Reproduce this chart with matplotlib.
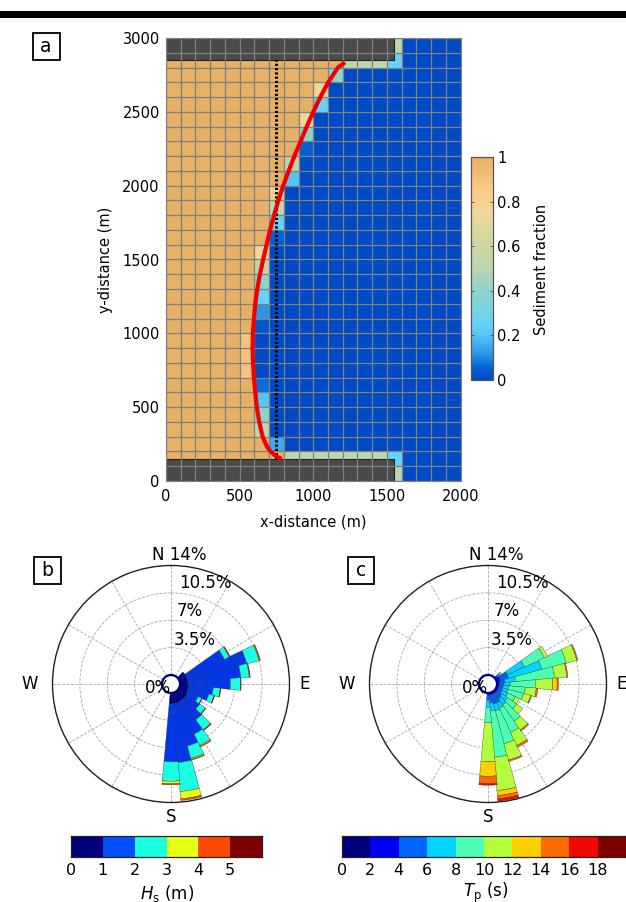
import numpy as np
import matplotlib
matplotlib.use("Agg")
import matplotlib.pyplot as plt
from matplotlib.colors import LinearSegmentedColormap, ListedColormap, BoundaryNorm
from matplotlib.patches import Rectangle

W, H = 626, 902
fig = plt.figure(figsize=(W/100, H/100), dpi=100)
plt.rcParams['font.family'] = 'DejaVu Sans'
plt.rcParams['mathtext.fontset'] = 'dejavusans'

def px_axes(x0, y0, x1, y1, **kw):
    return fig.add_axes([x0/W, 1-y1/H, (x1-x0)/W, (y1-y0)/H], **kw)

# ---------- data: panel a ----------
shore_cols = [15, 15, 7, 6, 6, 6, 6, 5, 5, 5, 6, 6, 6, 6, 6, 6, 7, 7, 7, 7, 8, 8, 9, 9, 9, 10, 10, 11, 15, 15]
shore_frac = [.5, .25, .15, .5, .4, .2, .07, .9, .9, .9, .03, .12, .25, .4, .5, .75, .05, .25, .5, .8, .2, .5, .05, .4, .75, .25, .75, .4, .25, .5]
shelf_rows = [1, 28]
shelf_start = [8, 12]
shelf_frac = 0.5
groyne_south = (0, 1550, 0, 150)
groyne_north = (0, 1550, 2850, 3000)
coast_x = [785, 755, 733, 708, 688, 671, 656, 633, 617, 606, 597, 591, 588, 590, 597, 606, 620, 638, 660, 683, 707, 734, 763, 796, 833, 872, 914, 956, 1000, 1048, 1102, 1168, 1215]
coast_y = [150, 163, 180, 203, 230, 265, 300, 400, 500, 600, 700, 800, 900, 1000, 1100, 1200, 1300, 1400, 1500, 1600, 1700, 1800, 1900, 2000, 2100, 2200, 2300, 2400, 2500, 2600, 2700, 2800, 2835]
init_x = [750, 750]
init_y = [150, 2850]

# ---------- data: wave roses (cumulative % per direction bin) ----------
directions = [50, 60, 70, 80, 90, 100, 110, 120, 130, 140, 150, 160, 170, 180]
hs_cum = [
    [1.0, 1.0, 1.0, 1.0, 1.0],
    [1.0, 6.37, 7.05, 7.10, 7.18],
    [1.0, 8.89, 10.50, 10.58, 10.68],
    [1.0, 7.82, 8.89, 8.95, 9.02],
    [1.1, 6.45, 7.74, 7.78, 7.82],
    [1.1, 4.27, 5.17, 5.20, 5.26],
    [1.1, 3.85, 4.55, 4.58, 4.62],
    [1.2, 2.69, 3.20, 3.22, 3.25],
    [1.3, 3.33, 4.22, 4.25, 4.27],
    [1.3, 4.40, 5.98, 6.05, 6.11],
    [1.3, 5.90, 7.48, 7.62, 7.74],
    [1.4, 7.05, 8.68, 8.82, 8.93],
    [1.4, 8.93, 12.65, 13.59, 13.80],
    [1.4, 8.80, 11.28, 11.62, 11.75],
]
hs_colors = ['#00007f', '#0050ff', '#19ffe0', '#e6ff12', '#ff4a00', '#7f0000']
hs_bar_colors = ['#00007f', '#0038e8', '#19ffe0', '#e6ff12', '#ff4a00', '#7f0000']
hs_ticks = [0, 1, 2, 3, 4, 5]
tp_cum = [
    [0.0, 0.3, 0.6, 0.8, 1.00, 1.00, 1.00, 1.00, 1.00],
    [0.0, 0.5, 1.60, 4.00, 6.79, 7.22, 7.22, 7.22, 7.22],
    [0.0, 0.5, 1.60, 5.98, 9.20, 10.60, 10.60, 10.75, 10.75],
    [0.0, 0.4, 1.00, 2.40, 7.39, 8.97, 8.97, 9.10, 9.10],
    [0.0, 0.3, 0.90, 1.70, 4.91, 7.14, 7.69, 7.86, 7.86],
    [0.0, 0.3, 0.80, 1.50, 3.63, 5.04, 5.04, 5.26, 5.26],
    [0.0, 0.3, 0.80, 1.50, 3.55, 4.49, 4.49, 4.62, 4.62],
    [0.0, 0.3, 0.80, 1.60, 2.69, 3.25, 3.25, 3.25, 3.25],
    [0.0, 0.3, 1.00, 1.90, 3.33, 4.27, 4.27, 4.27, 4.27],
    [0.0, 0.3, 1.20, 2.10, 4.66, 6.03, 6.03, 6.20, 6.20],
    [0.0, 0.3, 1.50, 2.26, 5.68, 7.52, 7.52, 7.78, 7.78],
    [0.0, 0.3, 1.50, 2.40, 6.75, 8.93, 8.93, 9.10, 9.10],
    [0.0, 0.3, 1.30, 2.30, 8.25, 12.52, 13.16, 13.59, 13.89],
    [0.0, 0.3, 0.90, 1.84, 3.80, 8.80, 10.64, 11.58, 11.79],
]
tp_colors = ['#00007f', '#0000f0', '#0064ff', '#00d4ff', '#4dffb3', '#b3ff3d', '#ffd000', '#ff6a00', '#f00800', '#7f0000']
tp_ticks = [0, 2, 4, 6, 8, 10, 12, 14, 16, 18]

# ---------- top rule ----------
fig.patches.append(Rectangle((0, 1-18/H), 1, 7/H, transform=fig.transFigure, fc='black', ec='none'))

# ---------- panel a ----------
ax = px_axes(166, 38, 460.5, 481)
sed = np.ones((30, 20))
for r, (c, f) in enumerate(zip(shore_cols, shore_frac)):
    sed[r, c] = f
    sed[r, c+1:] = 0
for r, s in zip(shelf_rows, shelf_start):
    sed[r, s:shore_cols[r]] = shelf_frac
sed_cmap = LinearSegmentedColormap.from_list('sed', [
    (0, '#004ac6'), (.05, '#0060d4'), (.12, '#2f98e8'), (.2, '#55c5f5'), (.25, '#66d2f5'), (.4, '#8cd4ca'),
    (.5, '#bcd6ae'), (.6, '#cdd6a2'), (.75, '#f0d69a'), (.85, '#fbcc88'), (1, '#e6b066')])
xe = np.arange(0, 2001, 100)
ye = np.arange(0, 3001, 100)
mesh = ax.pcolormesh(xe, ye, sed, cmap=sed_cmap, vmin=0, vmax=1, zorder=1)
for g in (groyne_south, groyne_north):
    ax.add_patch(Rectangle((g[0], g[2]), g[1]-g[0], g[3]-g[2], fc='#4a4a4a', ec='#222222', lw=0.8, zorder=2))
for v in xe:
    ax.axvline(v, color='#808080', lw=0.9, zorder=3)
for v in ye:
    ax.axhline(v, color='#808080', lw=0.9, zorder=3)
ax.plot(init_x, init_y, color='black', lw=2.2, ls=(0, (0.7, 0.7)), zorder=4)
ax.plot(coast_x, coast_y, color='#f00000', lw=3, zorder=5, solid_capstyle='butt', solid_joinstyle='round')
ax.set_xlim(0, 2000); ax.set_ylim(0, 3000)
ax.set_xticks(range(0, 2001, 500)); ax.set_yticks(range(0, 3001, 500))
ax.tick_params(length=0, labelsize=10.5)
ax.tick_params(axis='x', pad=6)
ax.tick_params(axis='y', pad=4.5)
ax.set_xlabel('x-distance (m)', fontsize=10.5, labelpad=7)
ax.set_ylabel('y-distance (m)', fontsize=10.5, labelpad=7)
for s in ax.spines.values():
    s.set_color('#808080'); s.set_linewidth(0.8); s.set_zorder(6)

cax = px_axes(471, 157, 493, 380)
cb = fig.colorbar(mesh, cax=cax)
cb.set_ticks([0, .2, .4, .6, .8, 1], labels=['0', '0.2', '0.4', '0.6', '0.8', '1'])
cb.ax.tick_params(direction='in', length=2, width=0.5, labelsize=10.5, pad=3, color='#333333', left=True)
cb.outline.set_edgecolor('#555555'); cb.outline.set_linewidth(0.9)
fig.text(541/W, 1-269/H, 'Sediment fraction', rotation=90, fontsize=10.5, ha='center', va='center')

# ---------- panels b, c ----------
RO = -1.15
def rose(cx, cy, cum, colors):
    a = px_axes(cx-118.5, cy-118.5, cx+118.5, cy+118.5, projection='polar')
    a.set_theta_zero_location('N'); a.set_theta_direction(-1)
    a.set_rorigin(RO); a.set_rlim(0, 14)
    a.set_xticks(np.deg2rad(np.arange(0, 360, 30))); a.set_xticklabels([])
    a.set_yticks([3.5, 7, 10.5, 14]); a.set_yticklabels([])
    a.grid(True, color='#a8a8a8', lw=0.6, ls='--')
    a.set_axisbelow(True)
    a.spines['polar'].set_color('#222222'); a.spines['polar'].set_linewidth(1.0)
    th = np.deg2rad(directions)
    c = np.array(cum)
    prev = np.zeros(len(directions))
    for k in range(c.shape[1]):
        h = c[:, k]-prev
        ec = colors[k] if prev.max() == 0 or k == 0 else '#303030'
        a.bar(th[h > 0], h[h > 0], width=np.deg2rad(10.4), bottom=prev[h > 0], color=colors[k],
              edgecolor=ec, linewidth=0.25, zorder=3)
        prev = c[:, k]
    tt = np.linspace(0, 2*np.pi, 100)
    a.plot(tt, np.zeros_like(tt), color='#00007f', lw=1.6, zorder=4, clip_on=False)
    a.plot([0.5], [0.5], 'o', color='black', ms=2.2, zorder=5, transform=a.transAxes)
    a.set_rlim(0, 14); a.set_rorigin(RO)
    return a

rose(171, 684, hs_cum, hs_bar_colors)
rose(488, 684, tp_cum, tp_colors)

def rose_text(cx):
    fs = 12
    for s, dx, y in [('N 14%', 8, 555), ('10.5%', 34, 583), ('7%', 19, 611), ('3.5%', 24, 640), ('0%', -13, 688)]:
        fig.text((cx+dx)/W, 1-y/H, s, fontsize=fs, ha='center', va='center', zorder=10)
    fig.text((cx-141)/W, 1-684/H, 'W', fontsize=fs, ha='center', va='center')
    fig.text((cx+134)/W, 1-684/H, 'E', fontsize=fs, ha='center', va='center')
    fig.text(cx/W, 1-817/H, 'S', fontsize=fs, ha='center', va='center')
rose_text(171)
rose_text(488)

def cbar(x0, x1, colors, ticks, step, label, labelx):
    a = px_axes(x0, 836, x1, 857)
    n = len(colors)
    edges = np.arange(n+1)*step
    a.pcolormesh(edges, [0, 1], np.arange(n)[None, :]+0.5,
                 cmap=ListedColormap(colors), norm=BoundaryNorm(np.arange(n+1), n))
    a.set_xlim(0, n*step); a.set_yticks([])
    a.set_xticks(ticks)
    a.tick_params(length=0, labelsize=11.5, pad=4)
    for s in a.spines.values():
        s.set_linewidth(0.9); s.set_color('#222222')
    fig.text(labelx/W, 1-893/H, label, fontsize=12, ha='center', va='center')

cbar(71, 262, hs_colors, hs_ticks, 1, r'$H_{\mathrm{s}}$ (m)', 167)
cbar(342, 626, tp_colors, tp_ticks, 2, r'$T_{\mathrm{p}}$ (s)', 486)

# ---------- panel letters ----------
for s, x0, y0 in [('a', 32.5, 32.5), ('b', 33.5, 556.5), ('c', 347.5, 556.5)]:
    fig.patches.append(Rectangle((x0/W, 1-(y0+27)/H), 27/W, 27/H, transform=fig.transFigure,
                                 fc='white', ec='black', lw=1.3, zorder=8))
    fig.text((x0+13.5)/W, 1-(y0+14)/H, s, fontsize=13.5, ha='center', va='center', zorder=9)

fig.savefig('out.png', dpi=100)
